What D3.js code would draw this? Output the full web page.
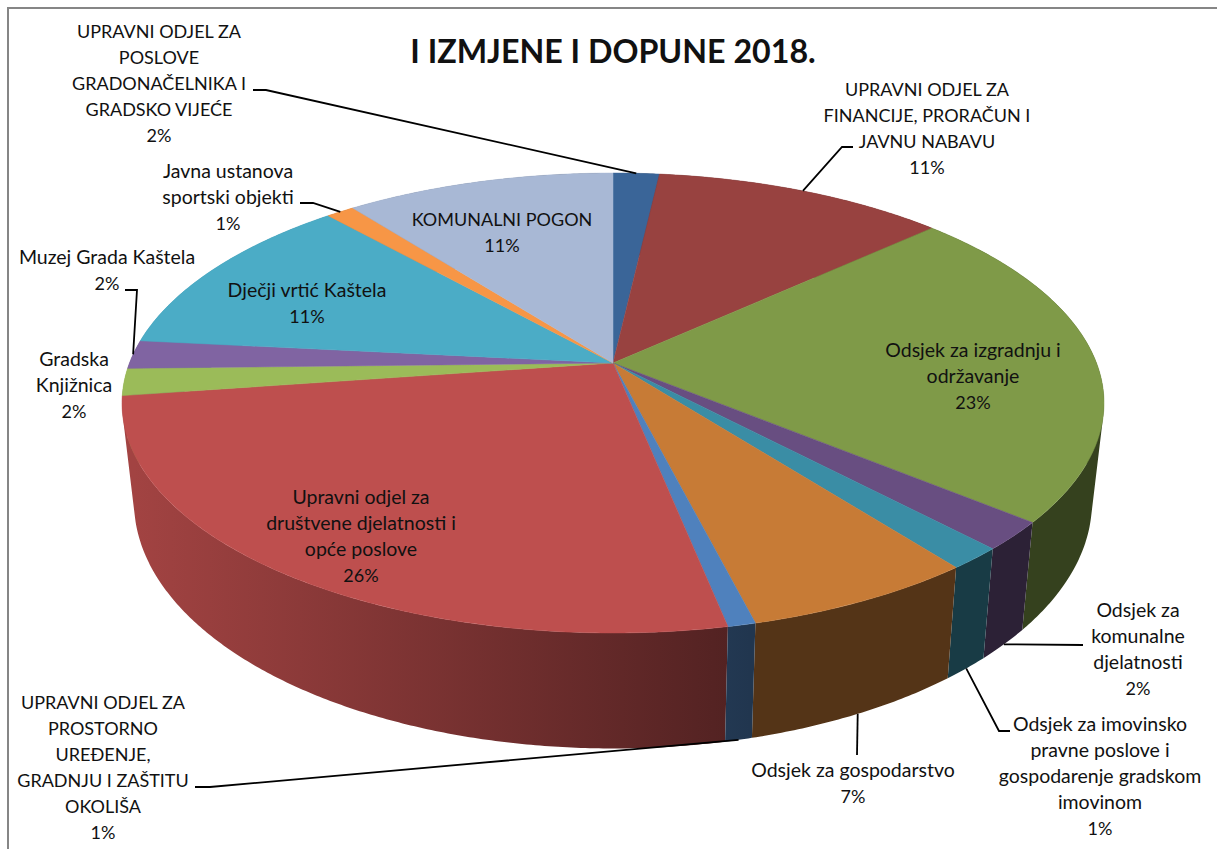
<!DOCTYPE html>
<html>
<head>
<meta charset="utf-8">
<script src="https://cdnjs.cloudflare.com/ajax/libs/d3/7.8.5/d3.min.js"></script>
<style>
html, body { margin: 0; padding: 0; background: #fff; overflow: hidden; }
text { font-family: Lato, "Open Sans", sans-serif; fill: #111; }
</style>
</head>
<body>
<svg></svg>
<script>
const width = 1217, height = 849;

// slices clockwise from 12 o'clock
const values = [1.8, 11.4, 22.8, 2.0, 1.55, 6.55, 0.78, 25.9, 1.9, 2.0, 11.8, 1.1, 10.5];
const percents = ["2%", "11%", "23%", "2%", "1%", "7%", "1%", "26%", "2%", "2%", "11%", "1%", "11%"];
const names = [
    ["UPRAVNI ODJEL ZA", "POSLOVE", "GRADONAČELNIKA I", "GRADSKO VIJEĆE"],
    ["UPRAVNI ODJEL ZA", "FINANCIJE, PRORAČUN I", "JAVNU NABAVU"],
    ["Odsjek za izgradnju i", "održavanje"],
    ["Odsjek za", "komunalne", "djelatnosti"],
    ["Odsjek za imovinsko", "pravne poslove i", "gospodarenje gradskom", "imovinom"],
    ["Odsjek za gospodarstvo"],
    ["UPRAVNI ODJEL ZA", "PROSTORNO", "UREĐENJE,", "GRADNJU I ZAŠTITU", "OKOLIŠA"],
    ["Upravni odjel za", "društvene djelatnosti i", "opće poslove"],
    ["Gradska", "Knjižnica"],
    ["Muzej Grada Kaštela"],
    ["Dječji vrtić Kaštela"],
    ["Javna ustanova", "sportski objekti"],
    ["KOMUNALNI POGON"]
];
const colors = ["#3a6598", "#984240", "#7f9a48", "#684e81", "#3a8da5", "#c77b36", "#4f81bd",
    "#be4f4e", "#9bbb59", "#8064a2", "#4bacc6", "#f79646", "#a8b8d5"];

// label centre x and first baseline
const labelPos = [[159, 38], [927, 96], [973, 357], [1138, 617], [1100, 731], [853, 777], [103, 709],
    [361, 504], [74, 366], [107, 264], [307, 297], [228, 178], [502, 226]];
// leader lines: slice index, rim it ends on, fixed points from the label side
const leaders = [
    { i: 0, rim: "top", pts: [[253, 90], [266, 90]] },
    { i: 1, rim: "top", pts: [[853, 147], [842, 147]] },
    { i: 3, rim: "low", pts: [[1083, 645]] },
    { i: 4, rim: "low", pts: [[1010, 731], [999, 731]] },
    { i: 5, rim: "low", pts: [[857, 755]] },
    { i: 6, rim: "low", pts: [[195, 787], [210, 787]] },
    { i: 9, rim: "top", pts: [[125, 290], [137, 290]] },
    { i: 11, rim: "top", pts: [[300, 203], [313, 203]] }
];

const svg = d3.select("svg")
    .attr("width", width)
    .attr("height", height)
    .style("display", "block");

// frame, only left and top are in the crop
svg.append("path")
    .attr("d", `M8,${height}V8H${width}`)
    .attr("fill", "none")
    .attr("stroke", "#868686")
    .attr("stroke-width", 2);

// perspective of the pie disc
const k = 0.174;
const xDisc = d3.scaleLinear().domain([-1, 1]).range([613 - 483.5, 613 + 483.5]);
const yDisc = d3.scaleLinear().domain([-1, 1]).range([363 - 223, 363 + 223]);
const xLow = d3.scaleLinear().domain([122, 1104]).range([134, 1092]);
const yLow = d3.scaleLinear().domain([173, 633]).range([255, 748.5]);

function rimTop(a) {
    const X = Math.sin(a), Y = -Math.cos(a), w = 1 - k * Y;
    return [xDisc(X / w), yDisc(Y / w)];
}
function rimLow(a) {
    const p = rimTop(a);
    return [xLow(p[0]), yLow(p[1])];
}

const arcs = d3.pie().sort(null).value(d => d)(values);
const line = d3.line();

function darker(col, f) {
    const c = d3.rgb(col);
    return d3.rgb(c.r * f, c.g * f, c.b * f).formatHex();
}

// wall gradients, lit from the left
const defs = svg.append("defs");
colors.forEach((c, i) => {
    const g = defs.append("linearGradient")
        .attr("id", "wall" + i)
        .attr("gradientUnits", "userSpaceOnUse")
        .attr("x1", 134).attr("x2", 750)
        .attr("y1", 0).attr("y2", 0);
    g.append("stop").attr("offset", 0).attr("stop-color", darker(c, 0.85));
    g.append("stop").attr("offset", 1).attr("stop-color", darker(c, 0.42));
});

// side wall of each slice, one path made of thin strips all wound the same way
const walls = arcs.map((d, i) => {
    const n = Math.max(2, Math.ceil((d.endAngle - d.startAngle) / 0.008));
    const steps = d3.range(n + 1).map(j => d.startAngle + (d.endAngle - d.startAngle) * j / n);
    const strips = d3.pairs(steps).map(([a0, a1]) => {
        const pts = [rimTop(a0), rimTop(a1), rimLow(a1), rimLow(a0)];
        return d3.polygonArea(pts) < 0 ? pts.reverse() : pts;
    });
    const y = d3.mean(steps, a => rimLow(a)[1]);
    return { i, y, d: strips.map(s => line(s) + "Z").join("") };
}).sort((a, b) => a.y - b.y);

svg.append("g").selectAll("path")
    .data(walls)
    .join("path")
    .attr("d", d => d.d)
    .attr("fill", d => `url(#wall${d.i})`);

// top face
svg.append("g").selectAll("path")
    .data(arcs)
    .join("path")
    .attr("d", d => {
        const n = Math.max(2, Math.ceil((d.endAngle - d.startAngle) / 0.01));
        const pts = d3.range(n + 1).map(j => rimTop(d.startAngle + (d.endAngle - d.startAngle) * j / n));
        return line([[613, 363], ...pts]) + "Z";
    })
    .attr("fill", (d, i) => colors[i])
    .attr("stroke", (d, i) => colors[i])
    .attr("stroke-width", 0.5);

// leader lines
svg.append("g").selectAll("path")
    .data(leaders)
    .join("path")
    .attr("d", d => {
        const a = (arcs[d.i].startAngle + arcs[d.i].endAngle) / 2;
        return line([...d.pts, d.rim === "top" ? rimTop(a) : rimLow(a)]);
    })
    .attr("fill", "none")
    .attr("stroke", "#000")
    .attr("stroke-width", 1.8);

// labels, Lato capitals run wider than the original face so they get a smaller size
const lineH = 26;
const label = svg.append("g").selectAll("text")
    .data(names.map((n, i) => ({ lines: [...n, percents[i]], pos: labelPos[i] })))
    .join("text")
    .attr("text-anchor", "middle");
label.selectAll("tspan")
    .data(d => d.lines.map((t, j) => ({ t, x: d.pos[0], y: d.pos[1] + j * lineH })))
    .join("tspan")
    .attr("x", d => d.x)
    .attr("y", d => d.y)
    .style("font-size", d => /[a-z]/.test(d.t) ? "19.5px" : "18px")
    .text(d => d.t);

svg.append("text")
    .attr("x", 613)
    .attr("y", 63)
    .attr("text-anchor", "middle")
    .style("font-size", "32.2px")
    .style("font-weight", "bold")
    .text("I IZMJENE I DOPUNE 2018.");
</script>
</body>
</html>
